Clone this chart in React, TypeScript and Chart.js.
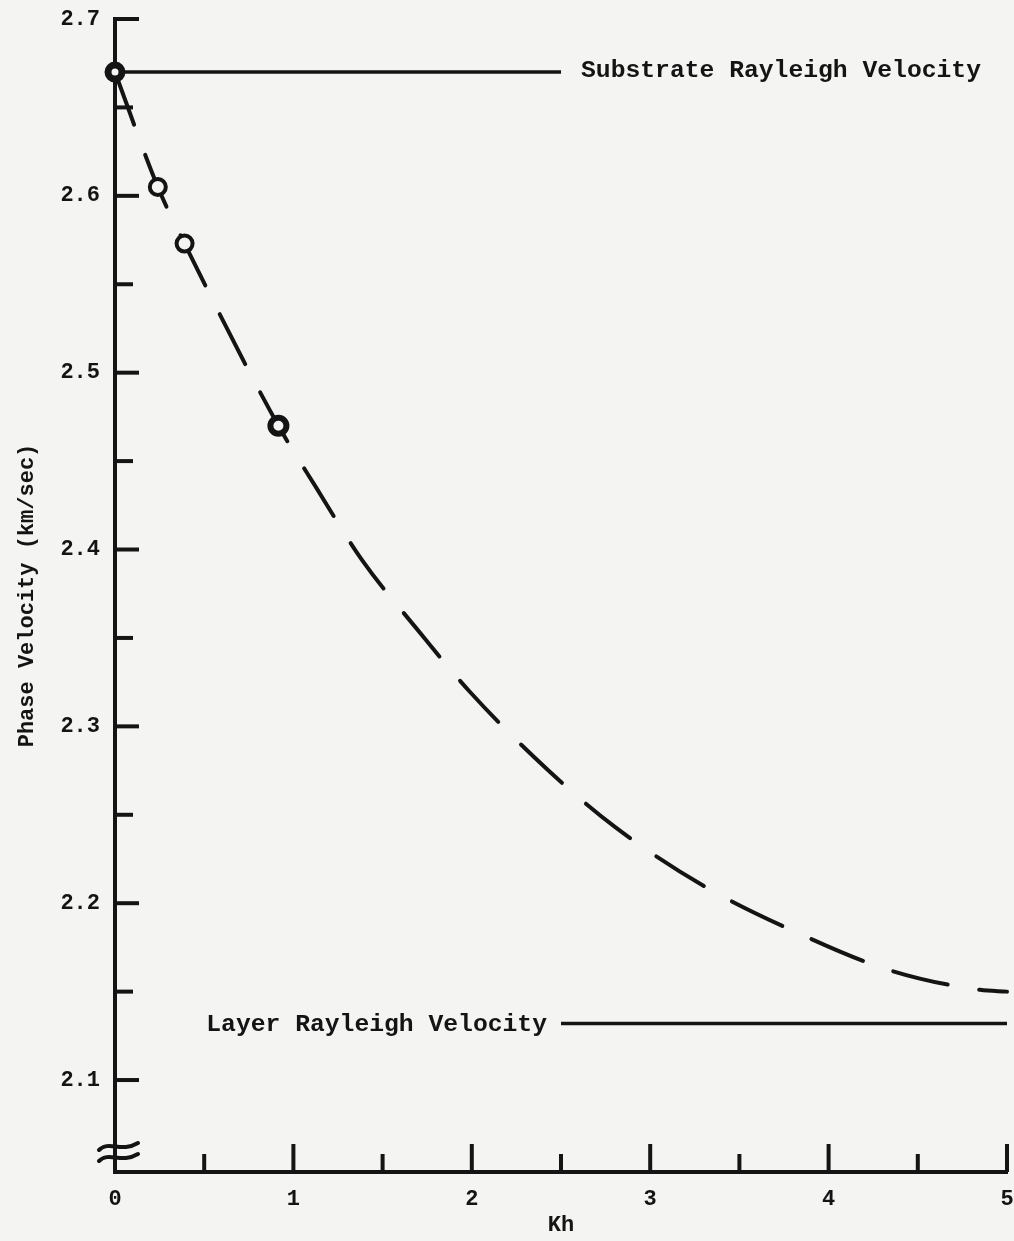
import React, { useEffect, useRef } from "react";
import { Chart, registerables } from "chart.js";

Chart.register(...registerables);

// ---- data ----
const curveKh = [0, 0.24, 0.39, 0.916, 1.128, 1.385, 1.693, 1.994, 2.419, 2.804, 3.296, 3.81, 4.346, 4.849, 5.0];
const curveVelocity = [2.67, 2.605, 2.573, 2.47, 2.435, 2.394, 2.355, 2.319, 2.276, 2.243, 2.21, 2.184, 2.162, 2.151, 2.15];

const pointKh = [0, 0.24, 0.39, 0.916];
const pointVelocity = [2.67, 2.605, 2.573, 2.47];

const substrateVelocity = 2.67;
const substrateKhRange = [0, 2.5];
const layerVelocity = 2.132;
const layerKhRange = [2.5, 5];

const xMajorTicks = [0, 1, 2, 3, 4, 5];
const xMinorTicks = [0.5, 1.5, 2.5, 3.5, 4.5];
const yMajorTicks = [2.1, 2.2, 2.3, 2.4, 2.5, 2.6, 2.7];
const yMinorTicks = [2.15, 2.25, 2.35, 2.45, 2.55, 2.65];

const xTitle = "Kh";
const yTitle = "Phase Velocity (km/sec)";
const substrateLabel = "Substrate Rayleigh Velocity";
const layerLabel = "Layer Rayleigh Velocity";

const INK = "#141414";
const PAPER = "#f4f4f2";
const FONT = "'Liberation Mono', 'DejaVu Sans Mono', monospace";

const decorPlugin = {
  id: "decor",
  afterDraw(chart: any) {
    const { ctx, chartArea } = chart;
    const xs = chart.scales.x;
    const ys = chart.scales.y;
    ctx.save();
    ctx.strokeStyle = INK;
    ctx.lineCap = "butt";
    ctx.lineWidth = 4;
    const tick = (x1: number, y1: number, x2: number, y2: number) => {
      ctx.beginPath();
      ctx.moveTo(x1, y1);
      ctx.lineTo(x2, y2);
      ctx.stroke();
    };
    yMajorTicks.forEach((v) => {
      const y = ys.getPixelForValue(v);
      tick(chartArea.left, y, chartArea.left + 24, y);
    });
    yMinorTicks.forEach((v) => {
      const y = ys.getPixelForValue(v);
      tick(chartArea.left, y, chartArea.left + 18, y);
    });
    xMajorTicks.forEach((v) => {
      if (v === 0) return;
      const x = xs.getPixelForValue(v);
      tick(x, chartArea.bottom, x, chartArea.bottom - 28);
    });
    xMinorTicks.forEach((v) => {
      const x = xs.getPixelForValue(v);
      tick(x, chartArea.bottom, x, chartArea.bottom - 18);
    });

    // axis break symbol
    const bx = chartArea.left;
    const by = chartArea.bottom - 20;
    ctx.lineWidth = 4;
    ctx.lineCap = "round";
    [-5, 6].forEach((dy) => {
      ctx.beginPath();
      ctx.moveTo(bx - 16, by + dy + 3);
      ctx.bezierCurveTo(bx - 6, by + dy - 7, bx + 6, by + dy + 6, bx + 23, by + dy - 4);
      ctx.stroke();
    });

    // annotations
    ctx.fillStyle = INK;
    ctx.font = `bold 24.7px ${FONT}`;
    ctx.textBaseline = "middle";
    ctx.textAlign = "left";
    ctx.fillText(substrateLabel, xs.getPixelForValue(substrateKhRange[1]) + 20, ys.getPixelForValue(substrateVelocity) - 1);
    ctx.textAlign = "right";
    ctx.fillText(layerLabel, xs.getPixelForValue(layerKhRange[0]) - 14, ys.getPixelForValue(layerVelocity) + 1);
    ctx.restore();
  },
};

export default function App() {
  const ref = useRef<HTMLCanvasElement | null>(null);

  useEffect(() => {
    if (!ref.current) return;
    const tickFont = { family: FONT, size: 22, weight: "bold" as const };
    const chart = new Chart(ref.current, {
      type: "scatter",
      data: {
        datasets: [
          {
            label: "Computed",
            data: pointKh.map((x, i) => ({ x, y: pointVelocity[i] })),
            showLine: false,
            pointStyle: "circle",
            pointRadius: [7, 8, 8, 8],
            pointBorderWidth: [7, 4, 4, 6],
            pointBackgroundColor: PAPER,
            pointBorderColor: INK,
            order: 0,
            clip: false,
          } as any,
          {
            label: "Dispersion",
            data: curveKh.map((x, i) => ({ x, y: curveVelocity[i] })),
            showLine: true,
            borderColor: INK,
            borderWidth: 4,
            borderDash: [56, 32],
            borderCapStyle: "round",
            cubicInterpolationMode: "monotone",
            pointRadius: 0,
            order: 1,
            clip: false,
          } as any,
          {
            label: "Substrate",
            data: substrateKhRange.map((x) => ({ x, y: substrateVelocity })),
            showLine: true,
            borderColor: INK,
            borderWidth: 3.5,
            pointRadius: 0,
            order: 2,
            clip: false,
          } as any,
          {
            label: "Layer",
            data: layerKhRange.map((x) => ({ x, y: layerVelocity })),
            showLine: true,
            borderColor: INK,
            borderWidth: 3.5,
            pointRadius: 0,
            order: 2,
            clip: false,
          } as any,
        ],
      },
      options: {
        animation: false,
        responsive: false,
        events: [],
        layout: { autoPadding: false, padding: { top: 19, right: 7, left: 0, bottom: 0 } },
        plugins: { legend: { display: false }, tooltip: { enabled: false } },
        scales: {
          x: {
            type: "linear",
            min: 0,
            max: 5,
            afterBuildTicks: (s: any) => {
              s.ticks = xMajorTicks.map((v) => ({ value: v }));
            },
            afterFit: (s: any) => {
              s.height = 69;
              s.paddingLeft = 0;
              s.paddingRight = 0;
            },
            grid: { display: false, drawTicks: false },
            border: { display: true, width: 4, color: INK },
            ticks: {
              padding: 14,
              color: INK,
              font: tickFont,
              maxRotation: 0,
              callback: (v: any) => String(v),
            },
            title: {
              display: true,
              text: xTitle,
              color: INK,
              font: tickFont,
              padding: { top: 0, bottom: 2 },
            },
          },
          y: {
            type: "linear",
            min: 2.048,
            max: 2.7,
            afterBuildTicks: (s: any) => {
              s.ticks = yMajorTicks.map((v) => ({ value: v }));
            },
            afterFit: (s: any) => {
              s.width = 115;
              s.paddingTop = 0;
              s.paddingBottom = 0;
            },
            grid: { display: false, drawTicks: false },
            border: { display: true, width: 4, color: INK },
            ticks: {
              padding: 15,
              color: INK,
              font: tickFont,
              callback: (v: any) => Number(v).toFixed(1),
            },
            title: {
              display: true,
              text: yTitle,
              color: INK,
              font: tickFont,
              padding: { top: 14, bottom: 0 },
            },
          },
        },
      },
      plugins: [decorPlugin],
    });
    return () => chart.destroy();
  }, []);

  return (
    <div
      style={{
        position: "fixed",
        left: 0,
        top: 0,
        width: 1014,
        height: 1241,
        background: PAPER,
      }}
    >
      <canvas ref={ref} width={1014} height={1241} style={{ display: "block" }} />
    </div>
  );
}
